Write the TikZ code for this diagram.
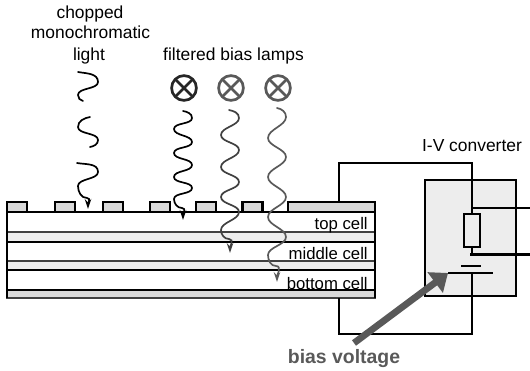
\documentclass[tikz,border=0pt]{standalone}
\usepackage{fontspec}
\setmainfont{Liberation Sans}
\usetikzlibrary{calc,positioning,arrows.meta}

\begin{document}
\begin{tikzpicture}[x=0.025cm,y=-0.025cm]

\tikzstyle{contact}=[draw,fill=black!15,outer sep=0pt,line width=1.6pt,minimum height=0.25cm,inner sep=0pt,anchor=south]
\tikzstyle{layer}=[draw=black!75,line width=1.3pt]
\tikzstyle{txt}=[font=\fontsize{12.4}{14}\selectfont,inner sep=0pt,anchor=base]
\tikzstyle{cell}=[font=\fontsize{11.9}{14}\selectfont,inner sep=0pt,anchor=base east]
\tikzstyle{lamp}=[draw,circle,line width=1.9pt,minimum size=0.62cm,inner sep=0pt,outer sep=0pt]
\tikzstyle{wave}=[line width=1.2pt,line cap=round,-{Stealth[length=7pt,width=4.5pt]}]
\tikzstyle{chop}=[line width=1.2pt,line cap=round]
\tikzstyle{wire}=[line width=2pt]
\tikzstyle{swing}=[out=-90,in=90,looseness=0.8]

\useasboundingbox (0,0) rectangle (530,370);

% Warstwy ogniwa

\draw [layer,fill=black!7] (7,232) rectangle (375,242);
\draw [layer,fill=black!7] (7,261) rectangle (375,270);
\draw [layer,fill=black!15] (7,290) rectangle (375,298);
\draw [line width=1.6pt] (7,212) -- (375,212) -- (375,298);
\draw [line width=1.6pt] (7,212) -- (7,298);
\draw [line width=1.6pt] (7,242) -- (375,242);
\draw [line width=1.6pt] (7,270) -- (375,270);
\draw [line width=1.6pt] (7,290) -- (375,290);

% Kontakty

\node (cont1) [contact,minimum width=0.5cm] at (17,212) {};
\node (cont2) [contact,minimum width=0.5cm] at (65,212) {};
\node (cont3) [contact,minimum width=0.5cm] at (113,212) {};
\node (cont4) [contact,minimum width=0.5cm] at (160,212) {};
\node (cont5) [contact,minimum width=0.5cm] at (206,212) {};
\node (cont6) [contact,minimum width=0.5cm] at (252.5,212) {};
\node (cont7) [contact,minimum width=2.175cm] at (331.5,212) {};

% Opisy warstw

\node (top) [cell] at (368,229) {top cell};
\node (middle) [cell] at (368,259) {middle cell};
\node (bottom) [cell] at (368,289) {bottom cell};

% Konwerter

\node (conv) [draw,fill=black!7,line width=2pt,minimum width=2.275cm,minimum height=2.9cm,outer sep=0pt] at (470.5,238) {};
\node (res) [draw,fill=black!7,line width=2pt,minimum width=0.4cm,minimum height=0.825cm,outer sep=0pt] at (472,230.5) {};

\coordinate (wtop) at (339,202);
\coordinate (wbot) at (339,298);
\coordinate (plate) at (472,273);
\coordinate (tap) at (472,255);

\draw [wire] (wtop) |- (472,163) -- (res.north);
\draw [wire] (wbot) |- (472,334) -- (plate);
\draw [wire] (res.south) -- (tap);
\draw [wire] (472,208) -- (530,208);
\draw [wire] (470,254.5) -- (530,254.5);
\draw [wire] (461,266) -- (481,266);
\draw [wire] (448,273) -- (493,273);

% Lampy

\node (lamp1) [lamp,draw=black!85] at (184,88) {};
\draw [line width=1.9pt,black!85] (lamp1.45) -- (lamp1.225);
\draw [line width=1.9pt,black!85] (lamp1.135) -- (lamp1.315);

\node (lamp2) [lamp,draw=black!65] at (231,88) {};
\draw [line width=1.9pt,black!65] (lamp2.45) -- (lamp2.225);
\draw [line width=1.9pt,black!65] (lamp2.135) -- (lamp2.315);

\node (lamp3) [lamp,draw=black!65] at (278,88) {};
\draw [line width=1.9pt,black!65] (lamp3.45) -- (lamp3.225);
\draw [line width=1.9pt,black!65] (lamp3.135) -- (lamp3.315);

% Fale

\draw [chop] (78,72) to[out=-10,in=90] (98,82) to[swing] (78,95) to[out=-90,in=170] (83,101);
\draw [chop] (90,117) to[out=190,in=90] (78,127) to[swing] (98,140) to[out=-90,in=10] (90,147);
\draw [wave] (77,163) to[out=-10,in=90] (98,172) to[swing] (78,186) to[out=-90,in=180] (87,198) to[out=0,in=90] (88,209);

\draw [wave] (183,111) to[out=-10,in=90] (192,118) to[swing] (174,129) to[swing] (192,142) to[swing] (174,153) to[swing] (192,165) to[swing] (174,177) to[swing] (192,188) to[swing] (174,199) to[out=-90,in=180] (182,208) to[out=0,in=90] (183,220);
\draw [wave,black!75] (229,110) to[out=-10,in=90] (239,118) to[swing] (221,135) to[swing] (239,150) to[swing] (221,167) to[swing] (239,182) to[swing] (221,197) to[swing] (239,212) to[swing] (221,230) to[out=-90,in=180] (229,239) to[out=0,in=90] (230,253);
\draw [wave,black!65] (277,108) to[out=-10,in=90] (286,117) to[swing] (268,138) to[swing] (286,157) to[swing] (268,177) to[swing] (286,197) to[swing] (268,217) to[swing] (286,237) to[swing] (268,255) to[out=-90,in=180] (276,266) to[out=0,in=90] (277,282);

% Strzalka

\draw [-{Triangle[length=0.4cm,width=0.62cm]},black!65,line width=4.8pt] (354,343) -- (448,273);

% Napisy

\node (chopped) [txt] at (90,18) {chopped};
\node (mono) [txt] at (90.5,38) {monochromatic};
\node (light) [txt] at (89,60) {light};
\node (filtered) [txt] at (233.5,60) {filtered bias lamps};
\node (convlabel) [txt] at (472,151) {I-V converter};
\node (bias) [txt,font=\fontsize{13.8}{14}\selectfont\bfseries,text=black!65] at (344,363) {bias voltage};

\end{tikzpicture}
\end{document}
